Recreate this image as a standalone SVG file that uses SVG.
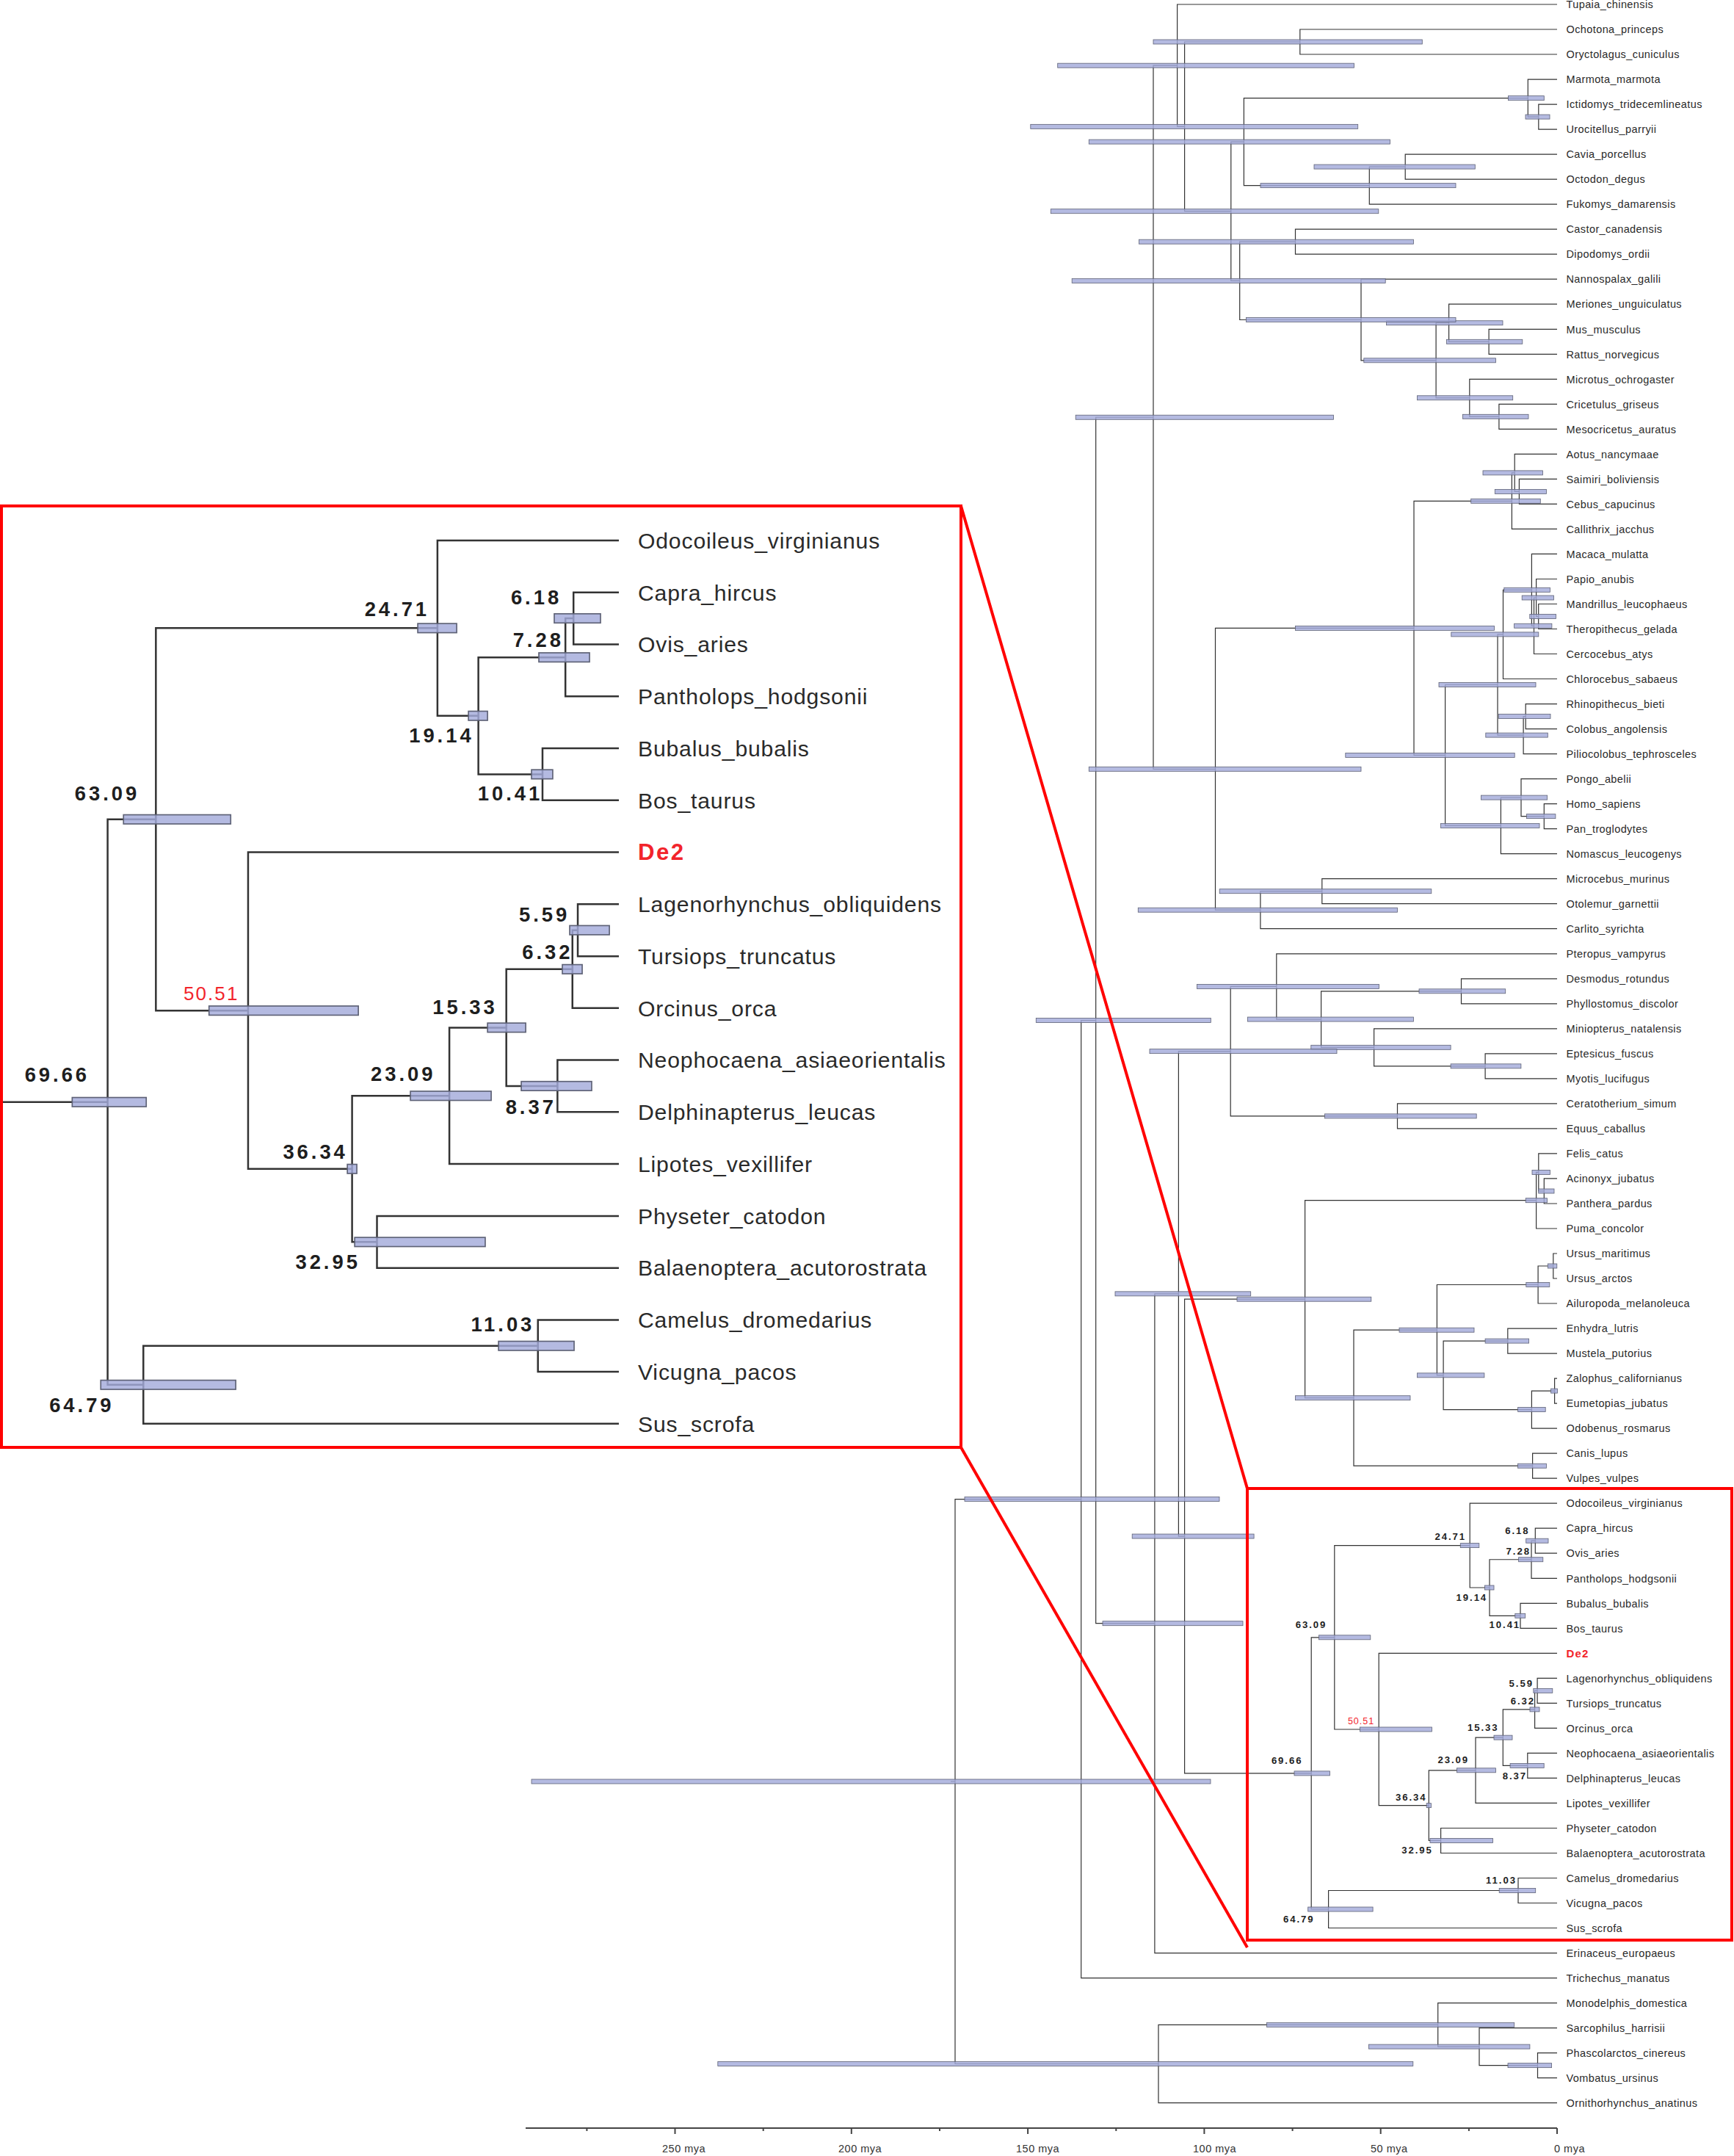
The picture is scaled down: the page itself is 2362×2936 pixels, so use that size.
<svg xmlns="http://www.w3.org/2000/svg" width="2362" height="2936" viewBox="0 0 2362 2936">
<defs>
<style>
.ln{fill:none;stroke:#333333;stroke-width:1.2}
.bar{fill:#a3abdb;fill-opacity:0.82;stroke:#5e6276;stroke-width:0.8}
.lb{font-family:"Liberation Sans",Arial,sans-serif;font-size:14.5px;letter-spacing:0.4px;fill:#2a2a2a}
.ag{font-family:"Liberation Sans",Arial,sans-serif;font-size:13.2px;font-weight:bold;letter-spacing:1.9px;fill:#1e1e1e}
.agr{font-family:"Liberation Sans",Arial,sans-serif;font-size:12.5px;letter-spacing:1px;fill:#f2242b}
.de{font-family:"Liberation Sans",Arial,sans-serif;font-size:15px;font-weight:bold;letter-spacing:1.2px;fill:#f2242b}
.ax{font-family:"Liberation Sans",Arial,sans-serif;font-size:14.5px;letter-spacing:0.5px;fill:#333}
.axl{fill:none;stroke:#444;stroke-width:2}
.red{fill:none;stroke:#ff0000;stroke-width:4}
</style>
</defs>
<rect width="2362" height="2936" fill="#ffffff"/>

<g id="connectors">
<path class="ln" d="M2121 40H1770.8V74H2121"/>
<path class="ln" d="M2121 142.1H2095.8V176.1H2121"/>
<path class="ln" d="M2121 108.1H2081.3V159.1H2095.8"/>
<path class="ln" d="M2121 210.1H1914.2V244.1H2121"/>
<path class="ln" d="M1914.2 227.1H1865.3V278.2H2121"/>
<path class="ln" d="M2081.3 133.6H1694.4V252.65H1865.3"/>
<path class="ln" d="M2121 312.2H1764.5V346.2H2121"/>
<path class="ln" d="M2121 448.3H2028.1V482.3H2121"/>
<path class="ln" d="M2121 414.2H1973.6V465.3H2028.1"/>
<path class="ln" d="M2121 550.3H2041.9V584.3H2121"/>
<path class="ln" d="M2121 516.3H2001.8V567.3H2041.9"/>
<path class="ln" d="M1973.6 439.75H1956.1V541.8H2001.8"/>
<path class="ln" d="M2121 380.2H1854V490.8H1956.1"/>
<path class="ln" d="M1764.5 329.2H1688.7V435.5H1854"/>
<path class="ln" d="M1694.4 193.1H1676.8V382.35H1688.7"/>
<path class="ln" d="M1770.8 57H1613.6V287.7H1676.8"/>
<path class="ln" d="M2121 6H1603.6V172.35H1613.6"/>
<path class="ln" d="M2121 652.4H2069.4V686.4H2121"/>
<path class="ln" d="M2121 618.4H2063.2V669.4H2069.4"/>
<path class="ln" d="M2063.2 643.9H2059.4V720.4H2121"/>
<path class="ln" d="M2121 822.5H2095.7V856.5H2121"/>
<path class="ln" d="M2121 788.5H2092.6V839.5H2095.7"/>
<path class="ln" d="M2092.6 814H2089.5V890.5H2121"/>
<path class="ln" d="M2121 754.4H2086.4V852.25H2089.5"/>
<path class="ln" d="M2086.4 803.3H2047.5V924.5H2121"/>
<path class="ln" d="M2121 958.6H2078.2V992.6H2121"/>
<path class="ln" d="M2078.2 975.6H2075.1V1026.6H2121"/>
<path class="ln" d="M2047.5 863.9H2040V1001.1H2075.1"/>
<path class="ln" d="M2121 1094.6H2103.3V1128.7H2121"/>
<path class="ln" d="M2121 1060.6H2072V1111.65H2103.3"/>
<path class="ln" d="M2072 1086.1H2044.4V1162.7H2121"/>
<path class="ln" d="M2040 932.5H1968.6V1124.4H2044.4"/>
<path class="ln" d="M2059.4 682.3H1926V1028.45H1968.6"/>
<path class="ln" d="M2121 1196.7H1800.8V1230.7H2121"/>
<path class="ln" d="M1800.8 1213.7H1716.9V1264.7H2121"/>
<path class="ln" d="M1926 855.4H1655.5V1239.2H1716.9"/>
<path class="ln" d="M1603.6 89.2H1571V1047.3H1655.5"/>
<path class="ln" d="M2121 1332.8H1990.5V1366.8H2121"/>
<path class="ln" d="M2121 1434.8H2023.1V1468.9H2121"/>
<path class="ln" d="M2121 1400.8H1871.6V1451.85H2023.1"/>
<path class="ln" d="M1990.5 1349.8H1799.6V1426.3H1871.6"/>
<path class="ln" d="M2121 1298.8H1738.8V1388.05H1799.6"/>
<path class="ln" d="M2121 1502.9H1903.5V1536.9H2121"/>
<path class="ln" d="M1738.8 1343.4H1676.2V1519.9H1903.5"/>
<path class="ln" d="M2121 1604.9H2103.3V1639H2121"/>
<path class="ln" d="M2121 1570.9H2095.8V1622H2103.3"/>
<path class="ln" d="M2095.8 1596.45H2092.6V1673H2121"/>
<path class="ln" d="M2121 1707H2115.8V1741H2121"/>
<path class="ln" d="M2115.8 1724H2095.1V1775H2121"/>
<path class="ln" d="M2121 1809.1H2053.8V1843.1H2121"/>
<path class="ln" d="M2121 1877.1H2117.6V1911.1H2121"/>
<path class="ln" d="M2117.6 1894.1H2086.4V1945.1H2121"/>
<path class="ln" d="M2053.8 1826.1H1966.1V1919.6H2086.4"/>
<path class="ln" d="M2095.1 1749.5H1957.4V1872.85H1966.1"/>
<path class="ln" d="M2121 1979.2H2087.6V2013.2H2121"/>
<path class="ln" d="M1957.4 1811.2H1844V1996.2H2087.6"/>
<path class="ln" d="M2092.6 1634.7H1777.6V1903.7H1844"/>
<path class="ln" d="M1777.6 1769.2H1613.6V2414.9H1786.2"/>
<path class="ln" d="M1676.2 1431.65H1605.4V2092.05H1613.6"/>
<path class="ln" d="M1605.4 1761.85H1572.9V2659.6H2121"/>
<path class="ln" d="M1571 568.25H1492.7V2210.7H1572.9"/>
<path class="ln" d="M1492.7 1389.5H1472.7V2693.6H2121"/>
<path class="ln" d="M2121 2795.6H2094.5V2829.7H2121"/>
<path class="ln" d="M2121 2761.6H2015V2812.65H2094.5"/>
<path class="ln" d="M2121 2727.6H1958.7V2787.1H2015"/>
<path class="ln" d="M1958.7 2757.35H1578V2863.7H2121"/>
<path class="ln" d="M1472.7 2041.55H1301V2810.5H1578"/>
<path class="ln" d="M1295 2426H1301"/>
</g>

<g id="inset-connectors">
<path class="ln" d="M2121 2081.2H2091.3V2115.2H2121"/>
<path class="ln" d="M2091.3 2098.2H2086V2149.3H2121"/>
<path class="ln" d="M2121 2183.3H2071V2217.3H2121"/>
<path class="ln" d="M2086 2123.75H2029V2200.3H2071"/>
<path class="ln" d="M2121 2047.2H2002.2V2162H2029"/>
<path class="ln" d="M2121 2285.3H2094.1V2319.4H2121"/>
<path class="ln" d="M2094.1 2302.35H2090.6V2353.4H2121"/>
<path class="ln" d="M2121 2387.4H2080.8V2421.4H2121"/>
<path class="ln" d="M2090.6 2327.9H2047.3V2404.4H2080.8"/>
<path class="ln" d="M2047.3 2366.15H2010V2455.4H2121"/>
<path class="ln" d="M2121 2489.5H1962.6V2523.5H2121"/>
<path class="ln" d="M2010 2410.8H1946.3V2506.5H1962.6"/>
<path class="ln" d="M2121 2251.3H1878.2V2458.65H1946.3"/>
<path class="ln" d="M2002.2 2104.6H1817.8V2355H1878.2"/>
<path class="ln" d="M2121 2557.5H2068V2591.5H2121"/>
<path class="ln" d="M2068 2574.5H1809.6V2625.5H2121"/>
<path class="ln" d="M1817.8 2229.8H1786.2V2600H1809.6"/>
</g>

<g id="nodes">
<g id="n-lagomorpha"><rect class="bar" x="1571" y="54" width="366.3" height="6"/></g>
<g id="n-ict-uro"><rect class="bar" x="2078" y="156.1" width="33" height="6"/></g>
<g id="n-sciuridae"><rect class="bar" x="2054.4" y="130.6" width="48.9" height="6"/></g>
<g id="n-cav-oct"><rect class="bar" x="1790" y="224.1" width="219.3" height="6"/></g>
<g id="n-hystricomorpha"><rect class="bar" x="1717" y="249.65" width="266" height="6"/></g>
<g id="n-r3"><rect class="bar" x="1483.3" y="190.1" width="410.2" height="6"/></g>
<g id="n-cas-dip"><rect class="bar" x="1551.6" y="326.2" width="373.8" height="6"/></g>
<g id="n-mus-rat"><rect class="bar" x="1970.5" y="462.3" width="103.3" height="6"/></g>
<g id="n-muridae"><rect class="bar" x="1888.5" y="436.75" width="158.5" height="6"/></g>
<g id="n-cri-mes"><rect class="bar" x="1992.4" y="564.3" width="89.6" height="6"/></g>
<g id="n-cricetidae"><rect class="bar" x="1930.4" y="538.8" width="130.3" height="6"/></g>
<g id="n-r7"><rect class="bar" x="1857.8" y="487.8" width="179.7" height="6"/></g>
<g id="n-r6"><rect class="bar" x="1697.5" y="432.5" width="285.5" height="6"/></g>
<g id="n-r4"><rect class="bar" x="1460.2" y="379.35" width="427" height="6"/></g>
<g id="n-rodentia"><rect class="bar" x="1431.3" y="284.7" width="446.5" height="6"/></g>
<g id="n-glires"><rect class="bar" x="1403.8" y="169.35" width="445.9" height="6"/></g>
<g id="n-a"><rect class="bar" x="1440.7" y="86.2" width="403.9" height="6"/></g>
<g id="n-sai-ceb"><rect class="bar" x="2036.3" y="666.4" width="70.1" height="6"/></g>
<g id="n-nw2"><rect class="bar" x="2020" y="640.9" width="81.4" height="6"/></g>
<g id="n-platyrrhini"><rect class="bar" x="2003.7" y="679.3" width="94.6" height="6"/></g>
<g id="n-man-the"><rect class="bar" x="2083.8" y="836.5" width="35.7" height="6"/></g>
<g id="n-pmt"><rect class="bar" x="2073.2" y="811" width="43.2" height="6"/></g>
<g id="n-px"><rect class="bar" x="2062.6" y="849.25" width="51.3" height="6"/></g>
<g id="n-papionini"><rect class="bar" x="2048.8" y="800.3" width="62.6" height="6"/></g>
<g id="n-cercopithecinae"><rect class="bar" x="1976.8" y="860.9" width="119" height="6"/></g>
<g id="n-rhi-col"><rect class="bar" x="2041.3" y="972.6" width="70.7" height="6"/></g>
<g id="n-colobinae"><rect class="bar" x="2023.8" y="998.1" width="84.5" height="6"/></g>
<g id="n-cercopithecidae"><rect class="bar" x="1960" y="929.5" width="132" height="6"/></g>
<g id="n-hom-pan"><rect class="bar" x="2079.5" y="1108.65" width="39.4" height="6"/></g>
<g id="n-hominidae"><rect class="bar" x="2017.5" y="1083.1" width="90.1" height="6"/></g>
<g id="n-hominoidea"><rect class="bar" x="1962.4" y="1121.4" width="134.6" height="6"/></g>
<g id="n-catarrhini"><rect class="bar" x="1832.8" y="1025.45" width="230.4" height="6"/></g>
<g id="n-anthropoidea"><rect class="bar" x="1764.5" y="852.4" width="271.1" height="6"/></g>
<g id="n-strepsirrhini"><rect class="bar" x="1661.2" y="1210.7" width="288.6" height="6"/></g>
<g id="n-pr1"><rect class="bar" x="1550.3" y="1236.2" width="353.2" height="6"/></g>
<g id="n-primates"><rect class="bar" x="1483.3" y="1044.3" width="370.7" height="6"/></g>
<g id="n-euarchontoglires"><rect class="bar" x="1465.2" y="565.25" width="351.3" height="6"/></g>
<g id="n-phyllostomidae"><rect class="bar" x="1933" y="1346.8" width="117.7" height="6"/></g>
<g id="n-ept-myo"><rect class="bar" x="1976.1" y="1448.85" width="95.8" height="6"/></g>
<g id="n-vespertilionoidea"><rect class="bar" x="1785.8" y="1423.3" width="190.3" height="6"/></g>
<g id="n-ch2"><rect class="bar" x="1699.4" y="1385.05" width="226" height="6"/></g>
<g id="n-chiroptera"><rect class="bar" x="1630.5" y="1340.4" width="248" height="6"/></g>
<g id="n-perissodactyla"><rect class="bar" x="1804.6" y="1516.9" width="206.6" height="6"/></g>
<g id="n-l3"><rect class="bar" x="1566" y="1428.65" width="255" height="6"/></g>
<g id="n-aci-pan"><rect class="bar" x="2095.7" y="1619" width="21.3" height="6"/></g>
<g id="n-f1"><rect class="bar" x="2087" y="1593.45" width="24.4" height="6"/></g>
<g id="n-felidae"><rect class="bar" x="2078.2" y="1631.7" width="29.4" height="6"/></g>
<g id="n-ursus"><rect class="bar" x="2108.3" y="1721" width="12.5" height="6"/></g>
<g id="n-ursidae"><rect class="bar" x="2078.8" y="1746.5" width="32" height="6"/></g>
<g id="n-mustelidae"><rect class="bar" x="2023.1" y="1823.1" width="59.5" height="6"/></g>
<g id="n-otariidae"><rect class="bar" x="2112.6" y="1891.1" width="8.8" height="6"/></g>
<g id="n-pinnipedia"><rect class="bar" x="2067.6" y="1916.6" width="37.6" height="6"/></g>
<g id="n-mp2"><rect class="bar" x="1930.4" y="1869.85" width="91.5" height="6"/></g>
<g id="n-arctoidea"><rect class="bar" x="1906" y="1808.2" width="102" height="6"/></g>
<g id="n-canidae"><rect class="bar" x="2067.5" y="1993.2" width="38.9" height="6"/></g>
<g id="n-caniformia"><rect class="bar" x="1764.5" y="1900.7" width="156.5" height="6"/></g>
<g id="n-carnivora"><rect class="bar" x="1685" y="1766.2" width="182.8" height="6"/></g>
<g id="n-l4"><rect class="bar" x="1542.2" y="2089.05" width="165.9" height="6"/></g>
<g id="n-l2"><rect class="bar" x="1519" y="1758.85" width="184.7" height="6"/></g>
<g id="n-laurasiatheria"><rect class="bar" x="1502" y="2207.7" width="191" height="6"/></g>
<g id="n-boreoeutheria"><rect class="bar" x="1411.3" y="1386.5" width="238" height="6"/></g>
<g id="n-eutheria"><rect class="bar" x="1314" y="2038.55" width="347" height="6"/></g>
<g id="n-diprotodontia"><rect class="bar" x="2054" y="2809.65" width="59.6" height="6"/></g>
<g id="n-australidelphia"><rect class="bar" x="1864.4" y="2784.1" width="219.5" height="6"/></g>
<g id="n-marsupialia"><rect class="bar" x="1725.4" y="2754.35" width="337.3" height="6"/></g>
<g id="n-mar-mono"><rect class="bar" x="977.8" y="2807.5" width="947" height="6"/></g>
<g id="n-root"><rect class="bar" x="724" y="2423" width="925" height="6"/></g>
</g>

<g id="leaves">
<g id="leaf-Tupaia_chinensis"><text class="lb" x="2133.5" y="11.2">Tupaia_chinensis</text></g>
<g id="leaf-Ochotona_princeps"><text class="lb" x="2133.5" y="45.2">Ochotona_princeps</text></g>
<g id="leaf-Oryctolagus_cuniculus"><text class="lb" x="2133.5" y="79.2">Oryctolagus_cuniculus</text></g>
<g id="leaf-Marmota_marmota"><text class="lb" x="2133.5" y="113.3">Marmota_marmota</text></g>
<g id="leaf-Ictidomys_tridecemlineatus"><text class="lb" x="2133.5" y="147.3">Ictidomys_tridecemlineatus</text></g>
<g id="leaf-Urocitellus_parryii"><text class="lb" x="2133.5" y="181.3">Urocitellus_parryii</text></g>
<g id="leaf-Cavia_porcellus"><text class="lb" x="2133.5" y="215.3">Cavia_porcellus</text></g>
<g id="leaf-Octodon_degus"><text class="lb" x="2133.5" y="249.3">Octodon_degus</text></g>
<g id="leaf-Fukomys_damarensis"><text class="lb" x="2133.5" y="283.4">Fukomys_damarensis</text></g>
<g id="leaf-Castor_canadensis"><text class="lb" x="2133.5" y="317.4">Castor_canadensis</text></g>
<g id="leaf-Dipodomys_ordii"><text class="lb" x="2133.5" y="351.4">Dipodomys_ordii</text></g>
<g id="leaf-Nannospalax_galili"><text class="lb" x="2133.5" y="385.4">Nannospalax_galili</text></g>
<g id="leaf-Meriones_unguiculatus"><text class="lb" x="2133.5" y="419.4">Meriones_unguiculatus</text></g>
<g id="leaf-Mus_musculus"><text class="lb" x="2133.5" y="453.5">Mus_musculus</text></g>
<g id="leaf-Rattus_norvegicus"><text class="lb" x="2133.5" y="487.5">Rattus_norvegicus</text></g>
<g id="leaf-Microtus_ochrogaster"><text class="lb" x="2133.5" y="521.5">Microtus_ochrogaster</text></g>
<g id="leaf-Cricetulus_griseus"><text class="lb" x="2133.5" y="555.5">Cricetulus_griseus</text></g>
<g id="leaf-Mesocricetus_auratus"><text class="lb" x="2133.5" y="589.5">Mesocricetus_auratus</text></g>
<g id="leaf-Aotus_nancymaae"><text class="lb" x="2133.5" y="623.6">Aotus_nancymaae</text></g>
<g id="leaf-Saimiri_boliviensis"><text class="lb" x="2133.5" y="657.6">Saimiri_boliviensis</text></g>
<g id="leaf-Cebus_capucinus"><text class="lb" x="2133.5" y="691.6">Cebus_capucinus</text></g>
<g id="leaf-Callithrix_jacchus"><text class="lb" x="2133.5" y="725.6">Callithrix_jacchus</text></g>
<g id="leaf-Macaca_mulatta"><text class="lb" x="2133.5" y="759.6">Macaca_mulatta</text></g>
<g id="leaf-Papio_anubis"><text class="lb" x="2133.5" y="793.7">Papio_anubis</text></g>
<g id="leaf-Mandrillus_leucophaeus"><text class="lb" x="2133.5" y="827.7">Mandrillus_leucophaeus</text></g>
<g id="leaf-Theropithecus_gelada"><text class="lb" x="2133.5" y="861.7">Theropithecus_gelada</text></g>
<g id="leaf-Cercocebus_atys"><text class="lb" x="2133.5" y="895.7">Cercocebus_atys</text></g>
<g id="leaf-Chlorocebus_sabaeus"><text class="lb" x="2133.5" y="929.7">Chlorocebus_sabaeus</text></g>
<g id="leaf-Rhinopithecus_bieti"><text class="lb" x="2133.5" y="963.8">Rhinopithecus_bieti</text></g>
<g id="leaf-Colobus_angolensis"><text class="lb" x="2133.5" y="997.8">Colobus_angolensis</text></g>
<g id="leaf-Piliocolobus_tephrosceles"><text class="lb" x="2133.5" y="1031.8">Piliocolobus_tephrosceles</text></g>
<g id="leaf-Pongo_abelii"><text class="lb" x="2133.5" y="1065.8">Pongo_abelii</text></g>
<g id="leaf-Homo_sapiens"><text class="lb" x="2133.5" y="1099.8">Homo_sapiens</text></g>
<g id="leaf-Pan_troglodytes"><text class="lb" x="2133.5" y="1133.9">Pan_troglodytes</text></g>
<g id="leaf-Nomascus_leucogenys"><text class="lb" x="2133.5" y="1167.9">Nomascus_leucogenys</text></g>
<g id="leaf-Microcebus_murinus"><text class="lb" x="2133.5" y="1201.9">Microcebus_murinus</text></g>
<g id="leaf-Otolemur_garnettii"><text class="lb" x="2133.5" y="1235.9">Otolemur_garnettii</text></g>
<g id="leaf-Carlito_syrichta"><text class="lb" x="2133.5" y="1269.9">Carlito_syrichta</text></g>
<g id="leaf-Pteropus_vampyrus"><text class="lb" x="2133.5" y="1304">Pteropus_vampyrus</text></g>
<g id="leaf-Desmodus_rotundus"><text class="lb" x="2133.5" y="1338">Desmodus_rotundus</text></g>
<g id="leaf-Phyllostomus_discolor"><text class="lb" x="2133.5" y="1372">Phyllostomus_discolor</text></g>
<g id="leaf-Miniopterus_natalensis"><text class="lb" x="2133.5" y="1406">Miniopterus_natalensis</text></g>
<g id="leaf-Eptesicus_fuscus"><text class="lb" x="2133.5" y="1440">Eptesicus_fuscus</text></g>
<g id="leaf-Myotis_lucifugus"><text class="lb" x="2133.5" y="1474.1">Myotis_lucifugus</text></g>
<g id="leaf-Ceratotherium_simum"><text class="lb" x="2133.5" y="1508.1">Ceratotherium_simum</text></g>
<g id="leaf-Equus_caballus"><text class="lb" x="2133.5" y="1542.1">Equus_caballus</text></g>
<g id="leaf-Felis_catus"><text class="lb" x="2133.5" y="1576.1">Felis_catus</text></g>
<g id="leaf-Acinonyx_jubatus"><text class="lb" x="2133.5" y="1610.1">Acinonyx_jubatus</text></g>
<g id="leaf-Panthera_pardus"><text class="lb" x="2133.5" y="1644.2">Panthera_pardus</text></g>
<g id="leaf-Puma_concolor"><text class="lb" x="2133.5" y="1678.2">Puma_concolor</text></g>
<g id="leaf-Ursus_maritimus"><text class="lb" x="2133.5" y="1712.2">Ursus_maritimus</text></g>
<g id="leaf-Ursus_arctos"><text class="lb" x="2133.5" y="1746.2">Ursus_arctos</text></g>
<g id="leaf-Ailuropoda_melanoleuca"><text class="lb" x="2133.5" y="1780.2">Ailuropoda_melanoleuca</text></g>
<g id="leaf-Enhydra_lutris"><text class="lb" x="2133.5" y="1814.3">Enhydra_lutris</text></g>
<g id="leaf-Mustela_putorius"><text class="lb" x="2133.5" y="1848.3">Mustela_putorius</text></g>
<g id="leaf-Zalophus_californianus"><text class="lb" x="2133.5" y="1882.3">Zalophus_californianus</text></g>
<g id="leaf-Eumetopias_jubatus"><text class="lb" x="2133.5" y="1916.3">Eumetopias_jubatus</text></g>
<g id="leaf-Odobenus_rosmarus"><text class="lb" x="2133.5" y="1950.3">Odobenus_rosmarus</text></g>
<g id="leaf-Canis_lupus"><text class="lb" x="2133.5" y="1984.4">Canis_lupus</text></g>
<g id="leaf-Vulpes_vulpes"><text class="lb" x="2133.5" y="2018.4">Vulpes_vulpes</text></g>
<g id="leaf-Erinaceus_europaeus"><text class="lb" x="2133.5" y="2664.8">Erinaceus_europaeus</text></g>
<g id="leaf-Trichechus_manatus"><text class="lb" x="2133.5" y="2698.8">Trichechus_manatus</text></g>
<g id="leaf-Monodelphis_domestica"><text class="lb" x="2133.5" y="2732.8">Monodelphis_domestica</text></g>
<g id="leaf-Sarcophilus_harrisii"><text class="lb" x="2133.5" y="2766.8">Sarcophilus_harrisii</text></g>
<g id="leaf-Phascolarctos_cinereus"><text class="lb" x="2133.5" y="2800.8">Phascolarctos_cinereus</text></g>
<g id="leaf-Vombatus_ursinus"><text class="lb" x="2133.5" y="2834.9">Vombatus_ursinus</text></g>
<g id="leaf-Ornithorhynchus_anatinus"><text class="lb" x="2133.5" y="2868.9">Ornithorhynchus_anatinus</text></g>
</g>

<g id="inset-nodes">
<g id="i-24.71"><rect class="bar" x="1989.3" y="2101.6" width="25.5" height="6"/><text class="ag" x="1954.5" y="2096.6">24.71</text></g>
<g id="i-6.18"><rect class="bar" x="2078.7" y="2095.2" width="30.3" height="6"/><text class="ag" x="2050.3" y="2089">6.18</text></g>
<g id="i-7.28"><rect class="bar" x="2068.6" y="2120.75" width="33.2" height="6"/><text class="ag" x="2051.6" y="2117">7.28</text></g>
<g id="i-19.14"><rect class="bar" x="2022.5" y="2159" width="12.5" height="6"/><text class="ag" x="1983.6" y="2179.5">19.14</text></g>
<g id="i-10.41"><rect class="bar" x="2063.8" y="2197.3" width="13.9" height="6"/><text class="ag" x="2028.6" y="2217.2">10.41</text></g>
<g id="i-63.09"><rect class="bar" x="1796.6" y="2226.8" width="70.2" height="6"/><text class="ag" x="1764.7" y="2217.2">63.09</text></g>
<g id="i-5.59"><rect class="bar" x="2088.8" y="2299.35" width="26" height="6"/><text class="ag" x="2055.6" y="2296.9">5.59</text></g>
<g id="i-6.32"><rect class="bar" x="2084" y="2324.9" width="13" height="6"/><text class="ag" x="2057.7" y="2321.2">6.32</text></g>
<g id="i-50.51"><rect class="bar" x="1852.6" y="2352" width="97.8" height="6"/><text class="agr" x="1835.9" y="2348.2">50.51</text></g>
<g id="i-15.33"><rect class="bar" x="2035" y="2363.15" width="25" height="6"/><text class="ag" x="1999" y="2357.4">15.33</text></g>
<g id="i-8.37"><rect class="bar" x="2057.1" y="2401.4" width="46.1" height="6"/><text class="ag" x="2046.8" y="2422.7">8.37</text></g>
<g id="i-23.09"><rect class="bar" x="1984.5" y="2407.8" width="52.9" height="6"/><text class="ag" x="1958.5" y="2400.9">23.09</text></g>
<g id="i-69.66"><rect class="bar" x="1763" y="2411.9" width="48.5" height="6"/><text class="ag" x="1731.9" y="2401.5">69.66</text></g>
<g id="i-36.34"><rect class="bar" x="1943.2" y="2455.65" width="6.2" height="6"/><text class="ag" x="1901" y="2451.8">36.34</text></g>
<g id="i-32.95"><rect class="bar" x="1948" y="2503.5" width="85.5" height="6"/><text class="ag" x="1909.2" y="2524.2">32.95</text></g>
<g id="i-11.03"><rect class="bar" x="2042.2" y="2571.5" width="49.5" height="6"/><text class="ag" x="2024.1" y="2565">11.03</text></g>
<g id="i-64.79"><rect class="bar" x="1781.7" y="2597" width="88.4" height="6"/><text class="ag" x="1748" y="2617.9">64.79</text></g>
</g>

<g id="inset-leaves">
<g id="leaf-Odocoileus_virginianus"><text class="lb" x="2133.5" y="2052.4">Odocoileus_virginianus</text></g>
<g id="leaf-Capra_hircus"><text class="lb" x="2133.5" y="2086.4">Capra_hircus</text></g>
<g id="leaf-Ovis_aries"><text class="lb" x="2133.5" y="2120.4">Ovis_aries</text></g>
<g id="leaf-Pantholops_hodgsonii"><text class="lb" x="2133.5" y="2154.5">Pantholops_hodgsonii</text></g>
<g id="leaf-Bubalus_bubalis"><text class="lb" x="2133.5" y="2188.5">Bubalus_bubalis</text></g>
<g id="leaf-Bos_taurus"><text class="lb" x="2133.5" y="2222.5">Bos_taurus</text></g>
<g id="leaf-De2"><text class="de" x="2133.5" y="2256.5">De2</text></g>
<g id="leaf-Lagenorhynchus_obliquidens"><text class="lb" x="2133.5" y="2290.5">Lagenorhynchus_obliquidens</text></g>
<g id="leaf-Tursiops_truncatus"><text class="lb" x="2133.5" y="2324.6">Tursiops_truncatus</text></g>
<g id="leaf-Orcinus_orca"><text class="lb" x="2133.5" y="2358.6">Orcinus_orca</text></g>
<g id="leaf-Neophocaena_asiaeorientalis"><text class="lb" x="2133.5" y="2392.6">Neophocaena_asiaeorientalis</text></g>
<g id="leaf-Delphinapterus_leucas"><text class="lb" x="2133.5" y="2426.6">Delphinapterus_leucas</text></g>
<g id="leaf-Lipotes_vexillifer"><text class="lb" x="2133.5" y="2460.6">Lipotes_vexillifer</text></g>
<g id="leaf-Physeter_catodon"><text class="lb" x="2133.5" y="2494.7">Physeter_catodon</text></g>
<g id="leaf-Balaenoptera_acutorostrata"><text class="lb" x="2133.5" y="2528.7">Balaenoptera_acutorostrata</text></g>
<g id="leaf-Camelus_dromedarius"><text class="lb" x="2133.5" y="2562.7">Camelus_dromedarius</text></g>
<g id="leaf-Vicugna_pacos"><text class="lb" x="2133.5" y="2596.7">Vicugna_pacos</text></g>
<g id="leaf-Sus_scrofa"><text class="lb" x="2133.5" y="2630.7">Sus_scrofa</text></g>
</g>

<g id="zoom-panel" transform="matrix(2.08 0 0 2.08 -3568.7 -3522.2)">
<g id="zoom-connectors">
<path class="ln" d="M1717 2414.9H1786.2"/>
<path class="ln" d="M2121 2081.2H2091.3V2115.2H2121"/>
<path class="ln" d="M2091.3 2098.2H2086V2149.3H2121"/>
<path class="ln" d="M2121 2183.3H2071V2217.3H2121"/>
<path class="ln" d="M2086 2123.75H2029V2200.3H2071"/>
<path class="ln" d="M2121 2047.2H2002.2V2162H2029"/>
<path class="ln" d="M2121 2285.3H2094.1V2319.4H2121"/>
<path class="ln" d="M2094.1 2302.35H2090.6V2353.4H2121"/>
<path class="ln" d="M2121 2387.4H2080.8V2421.4H2121"/>
<path class="ln" d="M2090.6 2327.9H2047.3V2404.4H2080.8"/>
<path class="ln" d="M2047.3 2366.15H2010V2455.4H2121"/>
<path class="ln" d="M2121 2489.5H1962.6V2523.5H2121"/>
<path class="ln" d="M2010 2410.8H1946.3V2506.5H1962.6"/>
<path class="ln" d="M2121 2251.3H1878.2V2458.65H1946.3"/>
<path class="ln" d="M2002.2 2104.6H1817.8V2355H1878.2"/>
<path class="ln" d="M2121 2557.5H2068V2591.5H2121"/>
<path class="ln" d="M2068 2574.5H1809.6V2625.5H2121"/>
<path class="ln" d="M1817.8 2229.8H1786.2V2600H1809.6"/>
</g>
<g id="z-24.71"><rect class="bar" x="1989.3" y="2101.6" width="25.5" height="6"/><text class="ag" x="1954.5" y="2096.6">24.71</text></g>
<g id="z-6.18"><rect class="bar" x="2078.7" y="2095.2" width="30.3" height="6"/><text class="ag" x="2050.3" y="2089">6.18</text></g>
<g id="z-7.28"><rect class="bar" x="2068.6" y="2120.75" width="33.2" height="6"/><text class="ag" x="2051.6" y="2117">7.28</text></g>
<g id="z-19.14"><rect class="bar" x="2022.5" y="2159" width="12.5" height="6"/><text class="ag" x="1983.6" y="2179.5">19.14</text></g>
<g id="z-10.41"><rect class="bar" x="2063.8" y="2197.3" width="13.9" height="6"/><text class="ag" x="2028.6" y="2217.2">10.41</text></g>
<g id="z-63.09"><rect class="bar" x="1796.6" y="2226.8" width="70.2" height="6"/><text class="ag" x="1764.7" y="2217.2">63.09</text></g>
<g id="z-5.59"><rect class="bar" x="2088.8" y="2299.35" width="26" height="6"/><text class="ag" x="2055.6" y="2296.9">5.59</text></g>
<g id="z-6.32"><rect class="bar" x="2084" y="2324.9" width="13" height="6"/><text class="ag" x="2057.7" y="2321.2">6.32</text></g>
<g id="z-50.51"><rect class="bar" x="1852.6" y="2352" width="97.8" height="6"/><text class="agr" x="1835.9" y="2348.2">50.51</text></g>
<g id="z-15.33"><rect class="bar" x="2035" y="2363.15" width="25" height="6"/><text class="ag" x="1999" y="2357.4">15.33</text></g>
<g id="z-8.37"><rect class="bar" x="2057.1" y="2401.4" width="46.1" height="6"/><text class="ag" x="2046.8" y="2422.7">8.37</text></g>
<g id="z-23.09"><rect class="bar" x="1984.5" y="2407.8" width="52.9" height="6"/><text class="ag" x="1958.5" y="2400.9">23.09</text></g>
<g id="z-69.66"><rect class="bar" x="1763" y="2411.9" width="48.5" height="6"/><text class="ag" x="1731.9" y="2401.5">69.66</text></g>
<g id="z-36.34"><rect class="bar" x="1943.2" y="2455.65" width="6.2" height="6"/><text class="ag" x="1901" y="2451.8">36.34</text></g>
<g id="z-32.95"><rect class="bar" x="1948" y="2503.5" width="85.5" height="6"/><text class="ag" x="1909.2" y="2524.2">32.95</text></g>
<g id="z-11.03"><rect class="bar" x="2042.2" y="2571.5" width="49.5" height="6"/><text class="ag" x="2024.1" y="2565">11.03</text></g>
<g id="z-64.79"><rect class="bar" x="1781.7" y="2597" width="88.4" height="6"/><text class="ag" x="1748" y="2617.9">64.79</text></g>
<g id="z-Odocoileus_virginianus"><text class="lb" x="2133.5" y="2052.4">Odocoileus_virginianus</text></g>
<g id="z-Capra_hircus"><text class="lb" x="2133.5" y="2086.4">Capra_hircus</text></g>
<g id="z-Ovis_aries"><text class="lb" x="2133.5" y="2120.4">Ovis_aries</text></g>
<g id="z-Pantholops_hodgsonii"><text class="lb" x="2133.5" y="2154.5">Pantholops_hodgsonii</text></g>
<g id="z-Bubalus_bubalis"><text class="lb" x="2133.5" y="2188.5">Bubalus_bubalis</text></g>
<g id="z-Bos_taurus"><text class="lb" x="2133.5" y="2222.5">Bos_taurus</text></g>
<g id="z-De2"><text class="de" x="2133.5" y="2256.5">De2</text></g>
<g id="z-Lagenorhynchus_obliquidens"><text class="lb" x="2133.5" y="2290.5">Lagenorhynchus_obliquidens</text></g>
<g id="z-Tursiops_truncatus"><text class="lb" x="2133.5" y="2324.6">Tursiops_truncatus</text></g>
<g id="z-Orcinus_orca"><text class="lb" x="2133.5" y="2358.6">Orcinus_orca</text></g>
<g id="z-Neophocaena_asiaeorientalis"><text class="lb" x="2133.5" y="2392.6">Neophocaena_asiaeorientalis</text></g>
<g id="z-Delphinapterus_leucas"><text class="lb" x="2133.5" y="2426.6">Delphinapterus_leucas</text></g>
<g id="z-Lipotes_vexillifer"><text class="lb" x="2133.5" y="2460.6">Lipotes_vexillifer</text></g>
<g id="z-Physeter_catodon"><text class="lb" x="2133.5" y="2494.7">Physeter_catodon</text></g>
<g id="z-Balaenoptera_acutorostrata"><text class="lb" x="2133.5" y="2528.7">Balaenoptera_acutorostrata</text></g>
<g id="z-Camelus_dromedarius"><text class="lb" x="2133.5" y="2562.7">Camelus_dromedarius</text></g>
<g id="z-Vicugna_pacos"><text class="lb" x="2133.5" y="2596.7">Vicugna_pacos</text></g>
<g id="z-Sus_scrofa"><text class="lb" x="2133.5" y="2630.7">Sus_scrofa</text></g>
</g>

<g id="axis">
<path class="axl" d="M716 2898H2121"/>
<path class="axl" d="M919.5 2898v8M1159.8 2898v8M1400.1 2898v8M1640.4 2898v8M1880.7 2898v8M2121 2898v8"/>
<path class="axl" d="M799.4 2898v4M1039.7 2898v4M1280 2898v4M1520.3 2898v4M1760.6 2898v4M2000.9 2898v4"/>
<text class="ax" x="902" y="2931">250 mya</text>
<text class="ax" x="1142" y="2931">200 mya</text>
<text class="ax" x="1384" y="2931">150 mya</text>
<text class="ax" x="1625" y="2931">100 mya</text>
<text class="ax" x="1867" y="2931">50 mya</text>
<text class="ax" x="2117" y="2931">0 mya</text>
</g>

<g id="zoom-frame">
<rect class="red" x="2" y="689" width="1307" height="1282"/>
<rect class="red" x="1699" y="2027" width="660" height="615"/>
<path class="red" d="M1309 689L1699 2027"/>
<path class="red" d="M1309 1971L1699 2652"/>
</g>
</svg>
